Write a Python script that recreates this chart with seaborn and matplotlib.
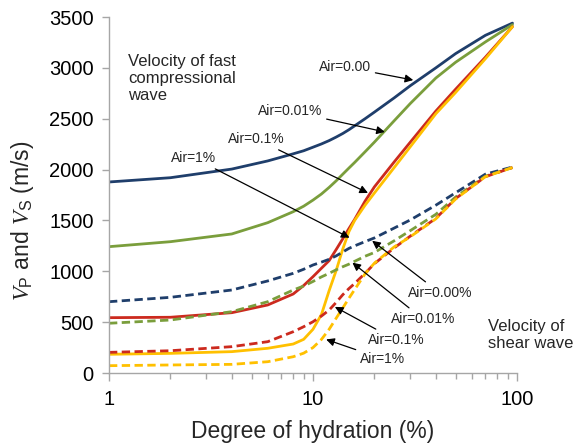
import numpy as np
import pandas as pd
import matplotlib
matplotlib.use("Agg")
import matplotlib.pyplot as plt
from matplotlib.ticker import FixedLocator, NullFormatter, LogLocator
import seaborn as sns

# Degree of hydration (%) at which the velocities are tabulated
hydration = [1, 2, 4, 6, 8, 9, 10, 11, 12, 13, 14, 15, 16, 18, 20, 25, 30, 40, 50, 70, 95]

# Compressional (P) wave velocity, m/s
vp_air000 = [1878, 1920, 2005, 2085, 2155, 2185, 2220, 2252, 2285, 2320, 2355, 2392, 2430, 2500, 2565, 2705, 2825, 3000, 3140, 3320, 3440]
vp_air001 = [1242, 1291, 1367, 1478, 1586, 1640, 1700, 1760, 1825, 1890, 1955, 2015, 2070, 2175, 2270, 2480, 2650, 2900, 3055, 3255, 3425]
vp_air01 = [544, 548, 593, 669, 777, 860, 947, 1030, 1105, 1215, 1320, 1420, 1510, 1690, 1830, 2075, 2270, 2575, 2790, 3105, 3405]
vp_air1 = [184, 193, 210, 243, 285, 331, 430, 575, 810, 1010, 1220, 1390, 1500, 1650, 1770, 2020, 2225, 2549, 2758, 3090, 3405]

# Shear (S) wave velocity, m/s
vs_air000 = [701, 744, 816, 905, 980, 1020, 1062, 1090, 1118, 1152, 1190, 1225, 1250, 1292, 1328, 1425, 1505, 1650, 1772, 1955, 2025]
vs_air001 = [489, 521, 603, 701, 816, 855, 900, 945, 980, 1015, 1045, 1070, 1098, 1148, 1185, 1300, 1400, 1560, 1730, 1935, 2020]
vs_air01 = [203, 219, 259, 308, 406, 455, 504, 560, 619, 695, 770, 830, 880, 980, 1075, 1230, 1346, 1520, 1715, 1930, 2020]
vs_air1 = [72, 79, 85, 111, 160, 195, 250, 330, 430, 540, 640, 735, 820, 975, 1080, 1240, 1340, 1515, 1710, 1930, 2020]

series_colors = ["#1F3E6B", "#7A9E3C", "#CC2A1E", "#FFC000"]
p_series = [vp_air000, vp_air001, vp_air01, vp_air1]
s_series = [vs_air000, vs_air001, vs_air01, vs_air1]

sns.set_theme(style="ticks")
plt.rcParams["font.family"] = ["Liberation Sans", "DejaVu Sans"]
plt.rcParams["mathtext.fontset"] = "custom"
plt.rcParams["mathtext.it"] = "Liberation Serif:italic"
plt.rcParams["mathtext.rm"] = "Liberation Sans"

fig = plt.figure(figsize=(5.76, 4.44), dpi=100)
ax = fig.add_axes([0.1892, 0.1599, 0.7084, 0.8018])

for vals, c in zip(p_series, series_colors):
    sns.lineplot(x=hydration, y=vals, ax=ax, color=c, lw=2.0, sort=False,
                 linestyle="-")
for vals, c in zip(s_series, series_colors):
    sns.lineplot(x=hydration, y=vals, ax=ax, color=c, lw=2.0, sort=False,
                 linestyle=(0, (3, 1.6)))

ax.set_xscale("log")
ax.set_xlim(1, 100)
ax.set_ylim(0, 3500)
ax.xaxis.set_major_locator(FixedLocator([1, 10, 100]))
ax.set_xticklabels(["1", "10", "100"])
ax.xaxis.set_minor_locator(LogLocator(base=10, subs=np.arange(2, 10)))
ax.xaxis.set_minor_formatter(NullFormatter())
ax.set_yticks(np.arange(0, 3501, 500))

gray = "#A6A6A6"
for side in ["top", "right"]:
    ax.spines[side].set_visible(False)
for side in ["left", "bottom"]:
    ax.spines[side].set_color(gray)
    ax.spines[side].set_linewidth(1.0)
ax.tick_params(axis="both", which="major", direction="out", color=gray,
               length=5, width=1.0, labelsize=14.5, labelcolor="black")
ax.tick_params(axis="x", which="major", length=6, pad=6)
ax.tick_params(axis="y", which="major", pad=6)
ax.tick_params(axis="x", which="minor", direction="out", color=gray,
               length=4, width=1.0)

ax.set_xlabel("Degree of hydration (%)", fontsize=16.5, labelpad=8)
ax.set_ylabel(r"$V_{\mathrm{P}}$ and $V_{\mathrm{S}}$ (m/s)", fontsize=16.5)
ax.yaxis.set_label_coords(-0.18, 0.427)

ax.text(1.24, 3140, "Velocity of fast\ncompressional\nwave", ha="left",
        va="top", fontsize=12)
ax.text(72, 530, "Velocity of\nshear wave", ha="left", va="top",
        fontsize=12, clip_on=False)

arrow = dict(arrowstyle="-|>", color="black", lw=0.9, mutation_scale=12,
             shrinkA=1, shrinkB=0)
notes = [
    ("Air=0.00", (31, 2880), (14.3, 3009)),
    ("Air=0.01%", (22.5, 2370), (7.7, 2576)),
    ("Air=0.1%", (18.6, 1770), (5.26, 2301)),
    ("Air=1%", (15.1, 1330), (2.61, 2114)),
    ("Air=0.00%", (19.5, 1300), (41.9, 787)),
    ("Air=0.01%", (15.6, 1085), (34.6, 531)),
    ("Air=0.1%", (12.8, 650), (25.5, 324)),
    ("Air=1%", (11.6, 330), (22.0, 138)),
]
for label, head, pos in notes:
    ax.annotate(label, xy=head, xytext=pos, ha="center", va="center",
                fontsize=10, arrowprops=arrow)

fig.savefig("out.png", dpi=100)
